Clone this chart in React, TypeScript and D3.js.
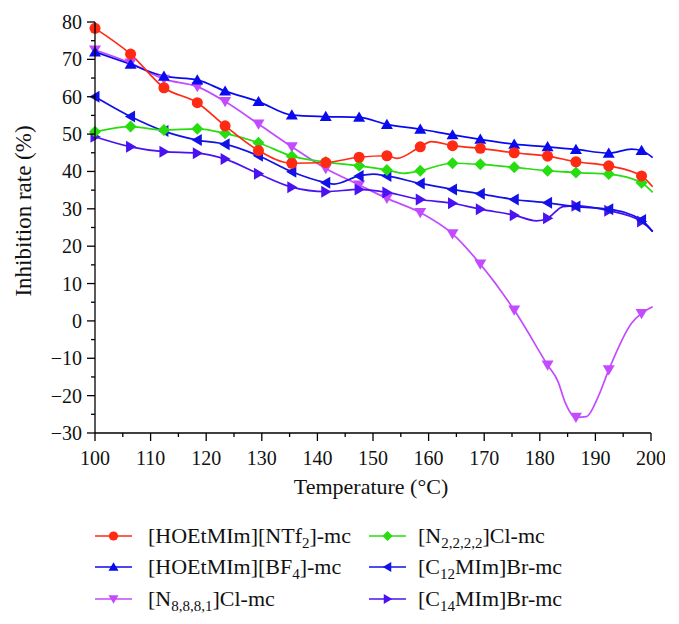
import React from "react";
import * as d3 from "d3";

const markerTemps = [100, 106.4, 112.4, 118.4, 123.4, 129.4, 135.4, 141.5, 147.5, 152.5, 158.5, 164.3, 169.3, 175.4, 181.4, 186.5, 192.4, 198.3];

const ntf2 = [78.3, 71.4, 62.4, 58.4, 52.2, 45.6, 42.2, 42.4, 43.8, 44.2, 46.6, 46.9, 46.2, 45.0, 44.1, 42.6, 41.5, 38.8];
const ntf2Extra: [number, number][] = [[154.3, 43.5], [160.5, 48.0], [200.3, 35.9]];

const bf4 = [72.0, 68.7, 65.5, 64.5, 61.5, 58.7, 55.1, 54.7, 54.5, 52.6, 51.3, 49.8, 48.6, 47.3, 46.6, 45.9, 44.9, 45.6];
const bf4Extra: [number, number][] = [[196.5, 46.0], [200.3, 43.7]];

const n8881 = [72.5, 69.0, 64.7, 62.7, 58.7, 52.7, 46.6, 40.8, 36.4, 32.8, 29.0, 23.3, 15.2, 2.9, -11.8, -25.8, -13.1, 2.0];
const n8881Extra: [number, number][] = [[183.3, -16.3], [184.5, -21.6], [188.4, -25.6], [190.5, -20.3], [196.5, -0.6], [200.3, 3.8]];

const n2222 = [50.6, 52.0, 51.1, 51.4, 50.2, 47.7, 44.1, 42.5, 41.5, 40.4, 40.2, 42.2, 41.9, 41.1, 40.2, 39.7, 39.3, 37.0];
const n2222Extra: [number, number][] = [[155.5, 39.5], [200.3, 34.4]];

const c12 = [60.0, 54.7, 50.8, 48.4, 47.3, 44.2, 39.9, 37.0, 38.8, 38.8, 36.8, 35.2, 34.0, 32.5, 31.6, 30.6, 29.9, 27.0];
const c12Extra: [number, number][] = [[143, 36.6], [150, 39.3], [200.3, 23.9]];

const c14 = [49.3, 46.6, 45.3, 44.9, 43.3, 39.4, 35.8, 34.6, 35.2, 34.4, 32.5, 31.5, 29.9, 28.3, 27.5, 30.8, 29.5, 26.6];
const c14Extra: [number, number][] = [[179.4, 26.8], [184.2, 30.6], [200.3, 23.9]];

const xTicks = [100, 110, 120, 130, 140, 150, 160, 170, 180, 190, 200];
const yTicks = [-30, -20, -10, 0, 10, 20, 30, 40, 50, 60, 70, 80];

type Shape = "circle" | "up" | "down" | "diamond" | "left" | "right";

const series: { key: string; vals: number[]; extra: [number, number][]; color: string; shape: Shape; label: [string, string, string] }[] = [
  { key: "ntf2", vals: ntf2, extra: ntf2Extra, color: "#FF2A14", shape: "circle", label: ["[HOEtMIm][NTf", "2", "]-mc"] },
  { key: "n2222", vals: n2222, extra: n2222Extra, color: "#27DD10", shape: "diamond", label: ["[N", "2,2,2,2", "]Cl-mc"] },
  { key: "bf4", vals: bf4, extra: bf4Extra, color: "#0A0AF0", shape: "up", label: ["[HOEtMIm][BF", "4", "]-mc"] },
  { key: "c12", vals: c12, extra: c12Extra, color: "#1212E6", shape: "left", label: ["[C", "12", "MIm]Br-mc"] },
  { key: "n8881", vals: n8881, extra: n8881Extra, color: "#C24BFF", shape: "down", label: ["[N", "8,8,8,1", "]Cl-mc"] },
  { key: "c14", vals: c14, extra: c14Extra, color: "#4A12F0", shape: "right", label: ["[C", "14", "MIm]Br-mc"] },
];

const FONT = '"Liberation Serif", "DejaVu Serif", serif';

function markerPath(shape: Shape, s: number): string {
  switch (shape) {
    case "up":
      return `M0,${-s * 0.95}L${s},${s * 0.75}L${-s},${s * 0.75}Z`;
    case "down":
      return `M0,${s * 0.95}L${s},${-s * 0.75}L${-s},${-s * 0.75}Z`;
    case "left":
      return `M${-s * 0.95},0L${s * 0.75},${-s}L${s * 0.75},${s}Z`;
    case "right":
      return `M${s * 0.95},0L${-s * 0.75},${-s}L${-s * 0.75},${s}Z`;
    case "diamond":
      return `M0,${-s}L${s},0L0,${s}L${-s},0Z`;
    default:
      return "";
  }
}

function Marker({ shape, x, y, color, s }: { shape: Shape; x: number; y: number; color: string; s: number }) {
  if (shape === "circle") return <circle cx={x} cy={y} r={s * 0.92} fill={color} />;
  return <path d={markerPath(shape, s)} transform={`translate(${x},${y})`} fill={color} />;
}

const textStyle = { fontFamily: FONT };

export default function App() {
  const x = d3.scaleLinear().domain([100, 200]).range([95, 651]);
  const y = d3.scaleLinear().domain([-30, 80]).range([433, 22]);
  const line = d3
    .line<[number, number]>()
    .x((d) => x(d[0]))
    .y((d) => y(d[1]))
    .curve(d3.curveMonotoneX);

  const minorX = d3.range(105, 200, 10);
  const minorY = d3.range(-25, 80, 10);

  const drawOrder = ["n8881", "c14", "c12", "n2222", "bf4", "ntf2"];

  const legendRows = [536, 567, 599];
  const legendCols = [{ x0: 95, x1: 132, tx: 148 }, { x0: 369, x1: 406, tx: 418 }];

  return (
    <svg width={679} height={624} style={{ position: "absolute", left: 0, top: 0, background: "#fff", fontFamily: FONT }}>
      <defs>
        <clipPath id="pageClip">
          <rect x={0} y={0} width={665} height={624} />
        </clipPath>
      </defs>
      <rect width={679} height={624} fill="#fff" />
      {drawOrder.map((k) => {
        const s = series.find((q) => q.key === k)!;
        const pts: [number, number][] = markerTemps.map((t, i) => [t, s.vals[i]] as [number, number]).concat(s.extra);
        pts.sort((a, b) => a[0] - b[0]);
        return <path key={k} d={line(pts) || ""} fill="none" stroke={s.color} strokeWidth={1.7} />;
      })}
      {drawOrder.map((k) => {
        const s = series.find((q) => q.key === k)!;
        return (
          <g key={k + "m"}>
            {markerTemps.map((t, i) => (
              <Marker key={i} shape={s.shape} x={x(t)} y={y(s.vals[i])} color={s.color} s={6} />
            ))}
          </g>
        );
      })}
      <g stroke="#000" strokeWidth={1.3} fill="none">
        <line x1={95} y1={22} x2={95} y2={433} />
        <line x1={95} y1={433} x2={651} y2={433} />
        {xTicks.map((t) => (
          <line key={"xt" + t} x1={x(t)} x2={x(t)} y1={433} y2={441} />
        ))}
        {minorX.map((t) => (
          <line key={"xm" + t} x1={x(t)} x2={x(t)} y1={433} y2={437} />
        ))}
        {yTicks.map((t) => (
          <line key={"yt" + t} x1={87} x2={95} y1={y(t)} y2={y(t)} />
        ))}
        {minorY.map((t) => (
          <line key={"ym" + t} x1={91} x2={95} y1={y(t)} y2={y(t)} />
        ))}
      </g>
      <g fontSize={20} fill="#111" clipPath="url(#pageClip)">
        {xTicks.map((t) => (
          <text key={"xl" + t} x={x(t)} y={465} textAnchor="middle" style={textStyle}>
            {t}
          </text>
        ))}
        {yTicks.map((t) => (
          <text key={"yl" + t} x={82} y={y(t) + 7} textAnchor="end" style={textStyle}>
            {t < 0 ? "\u2212" + Math.abs(t) : t}
          </text>
        ))}
      </g>
      <text x={371} y={494} fontSize={22} textAnchor="middle" fill="#111" style={textStyle}>
        Temperature (°C)
      </text>
      <text transform="translate(31,211) rotate(-90)" fontSize={23} textAnchor="middle" fill="#111" style={textStyle}>
        Inhibition rate (%)
      </text>
      {series.map((s, i) => {
        const col = legendCols[i % 2];
        const ry = legendRows[Math.floor(i / 2)];
        const mx = (col.x0 + col.x1) / 2;
        return (
          <g key={"lg" + s.key}>
            <line x1={col.x0} x2={col.x1} y1={ry} y2={ry} stroke={s.color} strokeWidth={1.7} />
            <Marker shape={s.shape} x={mx} y={ry} color={s.color} s={5} />
            <text x={col.tx} y={ry + 7} fontSize={22} fill="#111" style={textStyle}>
              {s.label[0]}
              <tspan fontSize={15} dy={5}>
                {s.label[1]}
              </tspan>
              <tspan dy={-5}>{s.label[2]}</tspan>
            </text>
          </g>
        );
      })}
    </svg>
  );
}
